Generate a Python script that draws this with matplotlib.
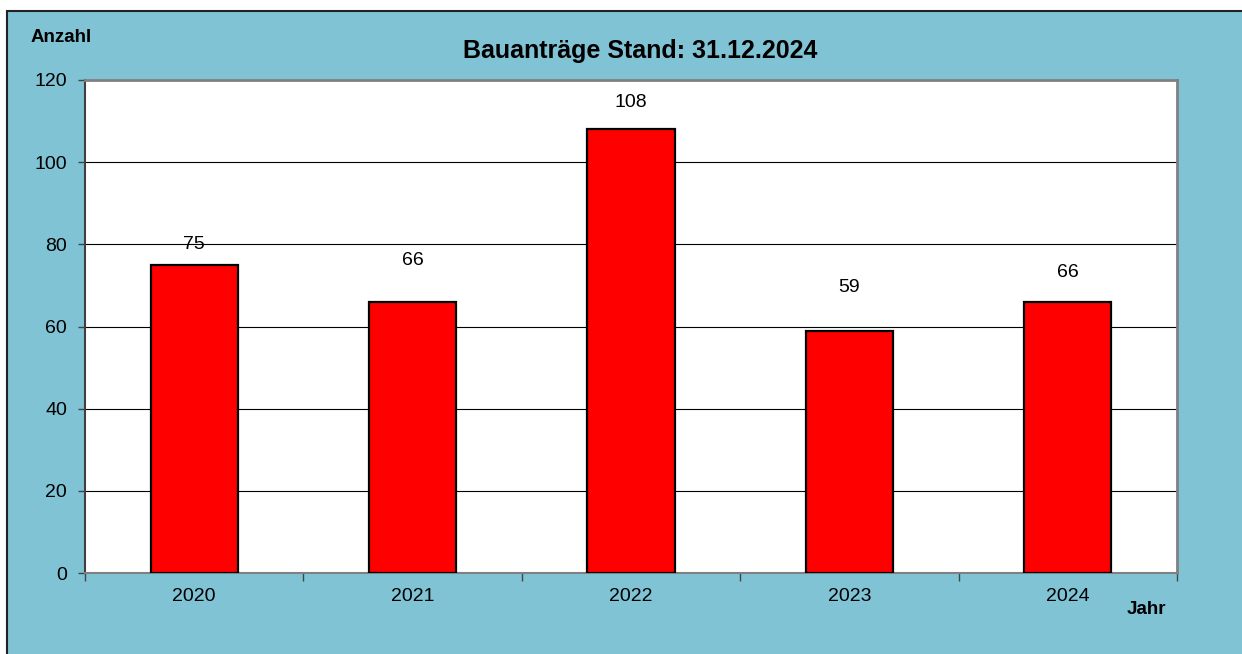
import matplotlib
matplotlib.use("Agg")
import matplotlib.pyplot as plt
from matplotlib.patches import Rectangle

years = ["2020", "2021", "2022", "2023", "2024"]
counts = [75, 66, 108, 59, 66]
yticks = [0, 20, 40, 60, 80, 100, 120]
title = "Bauanträge Stand: 31.12.2024"
ylabel = "Anzahl"
xlabel = "Jahr"

# label offsets above bar tops (points), as placed in the original
label_offsets = [15, 30, 19.5, 31, 21]

plt.rcParams['font.family'] = ['Liberation Sans', 'DejaVu Sans']

W, H = 1242, 654
fig = plt.figure(figsize=(W / 100, H / 100), dpi=100)
fig.patch.set_facecolor("white")
bg = "#7FC3D5"
fig.patches.append(Rectangle((7 / W, -0.05), 1.1, 1 - 11 / H + 0.05,
                             transform=fig.transFigure, facecolor=bg,
                             edgecolor="#222222", linewidth=1.5, zorder=-10))

left, right, top, bottom = 85, 1177, 80, 573
ax = fig.add_axes([left / W, 1 - bottom / H, (right - left) / W, (bottom - top) / H])
ax.set_zorder(5)
ax.set_facecolor("white")

x = range(len(years))
ax.bar(x, counts, width=0.4, color="#FF0000", edgecolor="black", linewidth=1.6, zorder=3)
ax.set_xlim(-0.5, len(years) - 0.5)
ax.set_ylim(0, 120)
ax.set_yticks(yticks)
ax.set_yticklabels([str(v) for v in yticks], fontsize=14)
ax.yaxis.grid(True, color="black", linewidth=0.8, zorder=0)
ax.set_axisbelow(True)

# category boundary ticks
ax.set_xticks([i - 0.5 for i in range(len(years) + 1)])
ax.set_xticklabels([])
ax.set_xticks(list(x), minor=True)
ax.set_xticklabels(years, minor=True, fontsize=14)
ax.tick_params(axis="x", which="minor", length=0, pad=11)
ax.tick_params(axis="x", which="major", length=6, width=1, color="#444444", direction="out")
ax.tick_params(axis="y", length=5, width=1, color="#444444", direction="out", pad=8)

for s in ["top", "right"]:
    ax.spines[s].set_color("#808080")
    ax.spines[s].set_linewidth(2)
ax.spines["bottom"].set_color("#808080")
ax.spines["bottom"].set_linewidth(1.5)
ax.spines["left"].set_color("#404040")
ax.spines["left"].set_linewidth(1.5)

for i, (v, off) in enumerate(zip(counts, label_offsets)):
    ax.annotate(str(v), (i, v), xytext=(0, off), textcoords="offset points",
                ha="center", va="center", fontsize=14, zorder=4)

fig.text(640 / W, 1 - 51 / H, title, ha="center", va="center",
         fontsize=18, fontweight="bold")
fig.text(61 / W, 1 - 37 / H, ylabel, ha="center", va="center",
         fontsize=13.5, fontweight="bold")
fig.text(1146 / W, 1 - 609 / H, xlabel, ha="center", va="center",
         fontsize=13.5, fontweight="bold")

fig.savefig("out.png", dpi=100, facecolor=fig.get_facecolor())
